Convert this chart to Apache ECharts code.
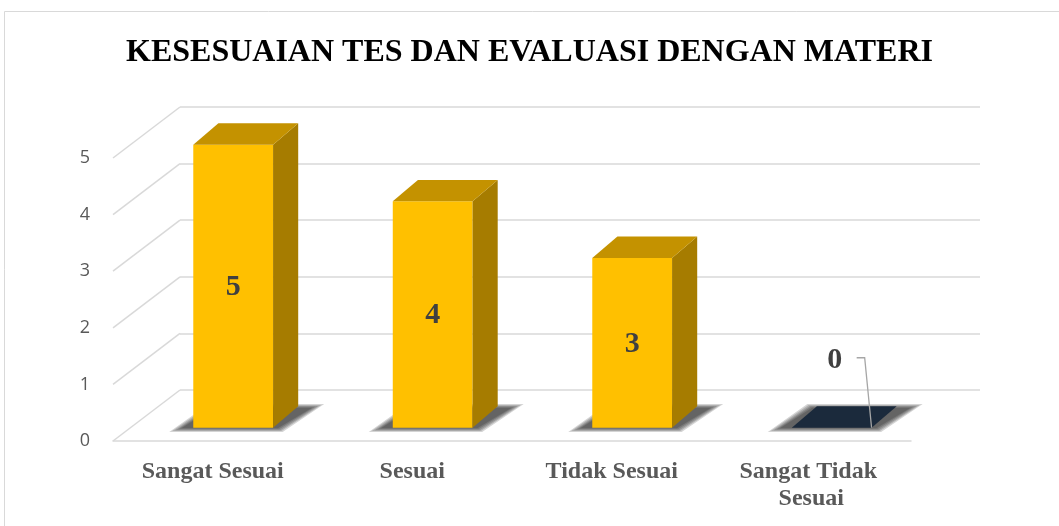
<!DOCTYPE html>
<html>
<head>
<meta charset="utf-8">
<script src="https://cdn.jsdelivr.net/npm/echarts@6/dist/echarts.min.js"></script>
<style>
  html, body { margin: 0; padding: 0; background: #fff; }
  #chart { width: 1059px; height: 526px; }
</style>
</head>
<body>
<div id="chart"></div>
<script>
const categories = ['Sangat Sesuai', 'Sesuai', 'Tidak Sesuai', 'Sangat Tidak Sesuai'];
const values = [5, 4, 3, 0];
const yTicks = [0, 1, 2, 3, 4, 5];

const chart = echarts.init(document.getElementById('chart'));

// depth of the 3D box in pixels (front plane -> back wall)
const DEPTH = [67, -51];
const F1 = 0.26; // bar front face depth fraction
const F2 = 0.68; // bar back face depth fraction
const SERIF = '"Liberation Serif", "Times New Roman", serif';

const frontColor = '#FFC000';
const sideColor = '#A67C00';
const topColor = '#C49200';
const zeroColor = '#1B2A3C';

function renderBar(params, api) {
  const idx = api.value(0);
  const val = api.value(1);
  const base = api.coord([idx, 0]);
  const peak = api.coord([idx, val]);
  const band = api.size([1, 0])[0];
  const half = band * 0.2;
  const d1 = [DEPTH[0] * F1 + 3, DEPTH[1] * F1];
  const d2 = [DEPTH[0] * F2, DEPTH[1] * F2];
  const x0 = base[0] - half + d1[0];
  const x1 = base[0] + half + d1[0];
  const yb = base[1] + d1[1];
  const yt = peak[1] + d1[1];
  const dx = d2[0] - d1[0];
  const dy = d2[1] - d1[1];
  const children = [];

  // soft floor shadow, faked with stacked translucent layers
  [14, 11, 8, 5, 2].forEach(k => {
    children.push({
      type: 'polygon',
      shape: { points: [
        [x0 - 10 - k, yb + k * 0.3],
        [x0 + dx - 4 - k * 0.4, yb + dy + 2 - k * 0.3],
        [x1 + dx + 12 + k, yb + dy + 2 - k * 0.3],
        [x1 + 4 + k * 0.4, yb + k * 0.3]
      ] },
      style: { fill: 'rgba(0,0,0,0.17)' },
      z2: 0
    });
  });

  if (val > 0) {
    children.push({
      type: 'rect',
      shape: { x: x0, y: yt, width: x1 - x0, height: yb - yt },
      style: { fill: frontColor },
      z2: 2
    });
    children.push({
      type: 'polygon',
      shape: { points: [[x1, yt], [x1 + dx, yt + dy], [x1 + dx, yb + dy], [x1, yb]] },
      style: { fill: sideColor },
      z2: 2
    });
    children.push({
      type: 'polygon',
      shape: { points: [[x0, yt], [x0 + dx, yt + dy], [x1 + dx, yt + dy], [x1, yt]] },
      style: { fill: topColor },
      z2: 2
    });
    children.push({
      type: 'text',
      style: {
        x: (x0 + x1) / 2, y: (yt + yb) / 2 + 1,
        text: String(val), align: 'center', verticalAlign: 'middle',
        font: 'bold 30px ' + SERIF, fill: '#404040'
      },
      z2: 3
    });
  } else {
    children.push({
      type: 'polygon',
      shape: { points: [[x0, yb], [x0 + dx, yb + dy], [x1 + dx, yb + dy], [x1, yb]] },
      style: { fill: zeroColor },
      z2: 2
    });
    const lx = (x0 + x1) / 2 + 3;
    const ly = yb - 67;
    children.push({
      type: 'polyline',
      shape: { points: [[lx + 22, ly - 3], [lx + 30, ly - 3], [x1, yb]] },
      style: { stroke: '#a6a6a6', lineWidth: 1.3, fill: null },
      z2: 3
    });
    children.push({
      type: 'text',
      style: {
        x: lx, y: ly,
        text: String(val), align: 'center', verticalAlign: 'middle',
        font: 'bold 30px ' + SERIF, fill: '#404040'
      },
      z2: 3
    });
  }
  return { type: 'group', children: children };
}

function renderDiagonal(params, api) {
  const v = api.value(0);
  const p = api.coord([0, v]);
  const x = params.coordSys.x;
  return {
    type: 'line',
    shape: { x1: x, y1: p[1], x2: x + DEPTH[0], y2: p[1] + DEPTH[1] },
    style: { stroke: '#d9d9d9', lineWidth: 1.5 }
  };
}

chart.setOption({
  backgroundColor: '#ffffff',
  animation: false,
  title: {
    text: 'KESESUAIAN TES DAN EVALUASI DENGAN MATERI',
    left: 'center',
    top: 32,
    textStyle: { fontFamily: SERIF, fontWeight: 'bold', fontSize: 32, color: '#000' }
  },
  graphic: [{
    type: 'rect',
    shape: { x: 4.5, y: 11.5, width: 1100, height: 600 },
    style: { fill: null, stroke: '#d9d9d9', lineWidth: 1 },
    silent: true
  }],
  grid: [
    { left: 113, right: 148, top: 158, bottom: 85 },
    { left: 113 + DEPTH[0], right: 148 - DEPTH[0] - 2, top: 158 + DEPTH[1], bottom: 85 - DEPTH[1] }
  ],
  xAxis: [
    {
      type: 'category', gridIndex: 0, data: categories,
      axisLine: { lineStyle: { color: '#d9d9d9', width: 1.5 } },
      axisTick: { show: false },
      axisLabel: {
        interval: 0, margin: 17, color: '#595959', fontFamily: SERIF, fontWeight: 'bold', fontSize: 24,
        width: 175, overflow: 'break', lineHeight: 27
      }
    },
    { type: 'category', gridIndex: 1, data: categories, show: false }
  ],
  yAxis: [
    {
      type: 'value', gridIndex: 0, min: 0, max: 5, interval: 1,
      axisLine: { show: false }, axisTick: { show: false }, splitLine: { show: false },
      axisLabel: { margin: 23, color: '#595959', fontFamily: '"Open Sans", "Noto Sans", sans-serif', fontSize: 18 }
    },
    {
      type: 'value', gridIndex: 1, min: 0, max: 5, interval: 1,
      axisLine: { show: false }, axisTick: { show: false }, axisLabel: { show: false },
      splitLine: { lineStyle: { color: '#d9d9d9', width: 1.5 } }
    }
  ],
  series: [
    {
      type: 'custom', xAxisIndex: 0, yAxisIndex: 0,
      renderItem: renderDiagonal,
      data: yTicks.map(v => [v]),
      silent: true, z: 1
    },
    {
      type: 'custom', xAxisIndex: 0, yAxisIndex: 0,
      renderItem: renderBar,
      data: values.map((v, i) => [i, v]),
      z: 5
    }
  ]
});
</script>
</body>
</html>
